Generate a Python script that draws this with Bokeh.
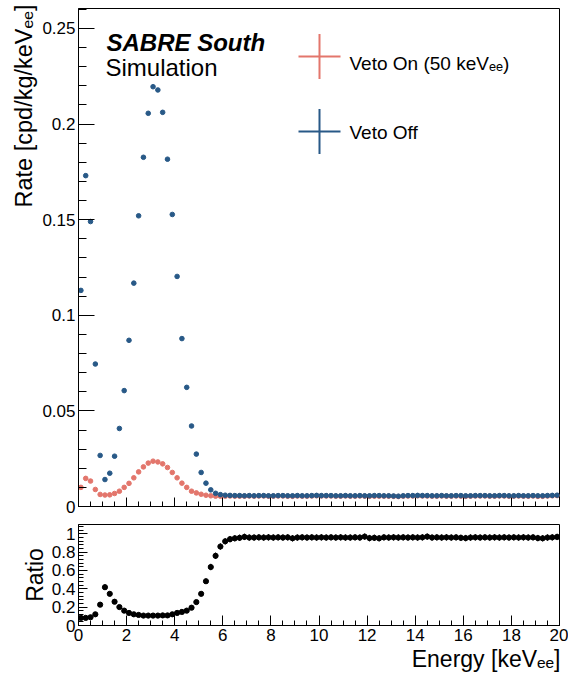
import numpy as np
from bokeh.plotting import figure
from bokeh.layouts import column
from bokeh.models import Range1d, Label, Arrow, Title, SingleIntervalTicker, CustomJSTickFormatter
from bokeh.embed import file_html
from bokeh.resources import INLINE

# ---------------- data ----------------
energy = [
    0.1, 0.3, 0.5, 0.7, 0.9, 1.1, 1.3, 1.5, 1.7, 1.9,
    2.1, 2.3, 2.5, 2.7, 2.9, 3.1, 3.3, 3.5, 3.7, 3.9,
    4.1, 4.3, 4.5, 4.7, 4.9, 5.1, 5.3, 5.5, 5.7, 5.9,
    6.1, 6.3, 6.5, 6.7, 6.9, 7.1, 7.3, 7.5, 7.7, 7.9,
    8.1, 8.3, 8.5, 8.7, 8.9, 9.1, 9.3, 9.5, 9.7, 9.9,
    10.1, 10.3, 10.5, 10.7, 10.9, 11.1, 11.3, 11.5, 11.7, 11.9,
    12.1, 12.3, 12.5, 12.7, 12.9, 13.1, 13.3, 13.5, 13.7, 13.9,
    14.1, 14.3, 14.5, 14.7, 14.9, 15.1, 15.3, 15.5, 15.7, 15.9,
    16.1, 16.3, 16.5, 16.7, 16.9, 17.1, 17.3, 17.5, 17.7, 17.9,
    18.1, 18.3, 18.5, 18.7, 18.9, 19.1, 19.3, 19.5, 19.7, 19.9,
]

veto_off = [
    0.1130, 0.1730, 0.1490, 0.0745, 0.0267, 0.0141, 0.0174, 0.0263, 0.0408, 0.0606,
    0.0869, 0.1168, 0.1520, 0.1826, 0.2056, 0.2195, 0.2178, 0.2061, 0.1816, 0.1527,
    0.1203, 0.0878, 0.0623, 0.0421, 0.0274, 0.0178, 0.0122, 0.0087, 0.0069, 0.0062,
    0.0059, 0.0058, 0.0057, 0.0057, 0.0056, 0.0057, 0.0056, 0.0057, 0.0057, 0.0056,
    0.0056, 0.0057, 0.0057, 0.0056, 0.0056, 0.0057, 0.0056, 0.0056, 0.0057, 0.0058,
    0.0057, 0.0057, 0.0057, 0.0056, 0.0056, 0.0057, 0.0056, 0.0056, 0.0057, 0.0056,
    0.0056, 0.0057, 0.0057, 0.0056, 0.0056, 0.0055, 0.0054, 0.0056, 0.0057, 0.0057,
    0.0058, 0.0057, 0.0057, 0.0056, 0.0056, 0.0057, 0.0056, 0.0056, 0.0057, 0.0057,
    0.0056, 0.0056, 0.0057, 0.0057, 0.0057, 0.0056, 0.0056, 0.0057, 0.0057, 0.0056,
    0.0056, 0.0057, 0.0056, 0.0056, 0.0057, 0.0056, 0.0056, 0.0057, 0.0058, 0.0059,
]

veto_on = [
    0.0100, 0.0147, 0.0133, 0.0089, 0.0063, 0.0060, 0.0061, 0.0068, 0.0080, 0.0100,
    0.0121, 0.0150, 0.0181, 0.0207, 0.0227, 0.0237, 0.0233, 0.0223, 0.0204, 0.0178,
    0.0150, 0.0122, 0.0100, 0.0080, 0.0071, 0.0064, 0.0059, 0.0056, 0.0054, 0.0054,
    0.0054, 0.0055, 0.0054, 0.0054, 0.0054, 0.0055, 0.0054, 0.0055, 0.0055, 0.0054,
    0.0054, 0.0055, 0.0055, 0.0054, 0.0053, 0.0055, 0.0054, 0.0054, 0.0055, 0.0056,
    0.0055, 0.0055, 0.0055, 0.0054, 0.0054, 0.0055, 0.0054, 0.0054, 0.0055, 0.0054,
    0.0053, 0.0054, 0.0054, 0.0054, 0.0054, 0.0053, 0.0052, 0.0054, 0.0055, 0.0055,
    0.0056, 0.0055, 0.0055, 0.0054, 0.0054, 0.0055, 0.0054, 0.0054, 0.0055, 0.0054,
    0.0053, 0.0054, 0.0055, 0.0055, 0.0055, 0.0054, 0.0054, 0.0055, 0.0055, 0.0054,
    0.0054, 0.0055, 0.0054, 0.0054, 0.0055, 0.0053, 0.0053, 0.0055, 0.0056, 0.0057,
]

ratio = [
    0.083, 0.083, 0.090, 0.122, 0.227, 0.417, 0.345, 0.259, 0.201, 0.162,
    0.137, 0.122, 0.115, 0.108, 0.108, 0.108, 0.108, 0.110, 0.110, 0.122,
    0.137, 0.148, 0.162, 0.194, 0.255, 0.345, 0.482, 0.637, 0.759, 0.860,
    0.917, 0.940, 0.950, 0.955, 0.965, 0.958, 0.958, 0.960, 0.958, 0.960,
    0.958, 0.960, 0.958, 0.960, 0.950, 0.958, 0.960, 0.958, 0.960, 0.958,
    0.960, 0.958, 0.960, 0.958, 0.960, 0.958, 0.958, 0.960, 0.958, 0.968,
    0.952, 0.955, 0.950, 0.960, 0.958, 0.960, 0.958, 0.960, 0.958, 0.960,
    0.958, 0.960, 0.968, 0.958, 0.960, 0.958, 0.960, 0.958, 0.960, 0.955,
    0.952, 0.958, 0.960, 0.958, 0.960, 0.958, 0.960, 0.958, 0.960, 0.958,
    0.960, 0.958, 0.960, 0.958, 0.960, 0.952, 0.950, 0.958, 0.960, 0.965,
]

ratio_err = [
    0.010, 0.008, 0.008, 0.012, 0.020, 0.030, 0.025, 0.020, 0.015, 0.012,
    0.010, 0.010, 0.010, 0.010, 0.010, 0.010, 0.010, 0.010, 0.010, 0.010,
    0.010, 0.010, 0.012, 0.015, 0.020, 0.025, 0.030, 0.035, 0.035, 0.035,
    0.035, 0.035, 0.035, 0.035, 0.035, 0.035, 0.035, 0.035, 0.035, 0.035,
    0.035, 0.035, 0.035, 0.035, 0.035, 0.035, 0.035, 0.035, 0.035, 0.035,
    0.035, 0.035, 0.035, 0.035, 0.035, 0.035, 0.035, 0.035, 0.035, 0.035,
    0.035, 0.035, 0.035, 0.035, 0.035, 0.035, 0.035, 0.035, 0.035, 0.035,
    0.035, 0.035, 0.035, 0.035, 0.035, 0.035, 0.035, 0.035, 0.035, 0.035,
    0.035, 0.035, 0.035, 0.035, 0.035, 0.035, 0.035, 0.035, 0.035, 0.035,
    0.035, 0.035, 0.035, 0.035, 0.035, 0.035, 0.035, 0.035, 0.035, 0.035,
]

# ---------------- styling / layout constants ----------------
RED = "#e3766c"
BLUE = "#285987"
FONT = "Liberation Sans"
XMAX = 20.0
YMAX = 0.2604
RMAX = 1.1
TICK_PX = 17

W = 568
FRAME_L, FRAME_R = 78, 559
TOP_T, TOP_B, TOP_H = 8, 506, 514
RAT_T, RAT_B, RAT_H = 524, 625, 160


def fx(px):
    return (px - FRAME_L) / (FRAME_R - FRAME_L) * XMAX


def ty(py):
    return (TOP_B - py) / (TOP_B - TOP_T) * YMAX


fmt = CustomJSTickFormatter(code="return String(Math.round(tick*1000)/1000);")
blank = CustomJSTickFormatter(code="return '';")


def style_axis(ax, tin, tmin, font_px, standoff=3, labels=True):
    ax.axis_line_color = "black"
    ax.axis_line_width = 1
    ax.major_tick_line_color = "black"
    ax.minor_tick_line_color = "black"
    ax.major_tick_in = tin
    ax.major_tick_out = 0
    ax.minor_tick_in = tmin
    ax.minor_tick_out = 0
    ax.major_label_text_font = FONT
    ax.major_label_text_color = "black"
    ax.major_label_text_font_size = f"{font_px}px"
    ax.major_label_standoff = standoff
    ax.formatter = fmt if labels else blank


def axis_title(text, size, align, standoff, offset=0):
    return Title(text=text, align=align, text_font=FONT, text_font_size=size,
                 text_font_style="normal", text_color="black", standoff=standoff, offset=offset)


def base_fig(height, ymax, top, bottom):
    p = figure(width=W, height=height,
               x_range=Range1d(0, XMAX), y_range=Range1d(0, ymax),
               output_backend="svg", toolbar_location=None,
               min_border_left=FRAME_L, min_border_right=W - FRAME_R,
               min_border_top=top, min_border_bottom=bottom)
    p.grid.visible = False
    p.outline_line_color = "black"
    p.outline_line_width = 1
    p.background_fill_color = "white"
    p.border_fill_color = "white"
    return p


# ---------------- top panel ----------------
p1 = base_fig(TOP_H, YMAX, TOP_T, TOP_H - TOP_B)
p1.xaxis.ticker = SingleIntervalTicker(interval=2, num_minor_ticks=4)
p1.yaxis.ticker = SingleIntervalTicker(interval=0.05, num_minor_ticks=5)
style_axis(p1.xaxis[0], 9, 5, 1, standoff=0, labels=False)
style_axis(p1.yaxis[0], 16, 8, TICK_PX, standoff=3)
p1.add_layout(axis_title("Rate [cpd/kg/keV\u2091\u2091]", "23.5px", "right", 5, offset=-4), "left")

p1.scatter(energy, veto_on, size=4.6, color=RED)
p1.scatter(energy, veto_off, size=4.6, color=BLUE)

# SABRE South / Simulation
p1.add_layout(Label(x=fx(106), y=ty(42), text="SABRE South", text_align="left",
                    text_baseline="alphabetic", text_font=FONT, text_font_size="24px",
                    text_font_style="bold italic", text_color="black"))
p1.add_layout(Label(x=fx(105), y=ty(67), text="Simulation", text_align="left",
                    text_baseline="alphabetic", text_font=FONT, text_font_size="24px",
                    text_color="black"))

# legend (ROOT-style error-bar crosses)
for cy, col in ((56, RED), (131, BLUE)):
    p1.add_layout(Arrow(end=None, x_start=fx(298), y_start=ty(cy), x_end=fx(340), y_end=ty(cy),
                        line_color=col, line_width=2))
    p1.add_layout(Arrow(end=None, x_start=fx(319), y_start=ty(cy - 22.5), x_end=fx(319),
                        y_end=ty(cy + 22.5), line_color=col, line_width=2))

p1.add_layout(Label(x=fx(349), y=ty(63), text="Veto On (50 keV\u2091\u2091)", text_align="left",
                    text_baseline="alphabetic", text_font=FONT, text_font_size="19px",
                    text_color="black"))
p1.add_layout(Label(x=fx(349), y=ty(131.5), text="Veto Off", text_align="left",
                    text_baseline="alphabetic", text_font=FONT, text_font_size="19px",
                    text_color="black"))

# ---------------- ratio panel ----------------
p2 = base_fig(RAT_H, RMAX, RAT_T - TOP_H, TOP_H + RAT_H - RAT_B)
p2.xaxis.ticker = SingleIntervalTicker(interval=2, num_minor_ticks=4)
p2.yaxis.ticker = SingleIntervalTicker(interval=0.2, num_minor_ticks=5)
style_axis(p2.xaxis[0], 10, 5, TICK_PX, standoff=3)
style_axis(p2.yaxis[0], 9, 5, TICK_PX, standoff=3)
p2.add_layout(axis_title("Ratio", "23px", "center", 2), "left")
p2.add_layout(axis_title("Energy [keV\u2091\u2091]", "23px", "right", 0, offset=-1), "below")

r = np.array(ratio)
e = np.array(ratio_err)
p2.segment(x0=energy, y0=r - e, x1=energy, y1=r + e, line_color="black", line_width=1)
p2.scatter(energy, ratio, size=5.2, color="black")

layout = column(p1, p2, spacing=0)
open("out.html", "w").write(file_html(layout, INLINE))
